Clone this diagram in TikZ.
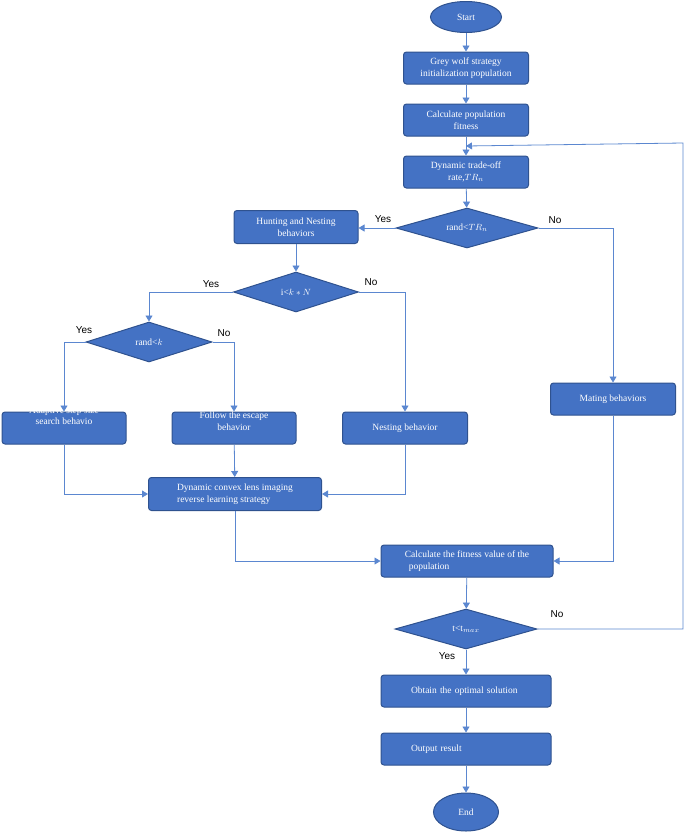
\documentclass[tikz,border=0pt]{standalone}
\usepackage{fontspec}
\setmainfont{Liberation Serif}
\newfontfamily\yesnofont{Liberation Sans}
\usetikzlibrary{calc}
\usetikzlibrary{arrows.meta}
\usetikzlibrary{shapes.geometric}

\definecolor{boxblue}{HTML}{4472C4}
\definecolor{edgeblue}{HTML}{2F528F}
\definecolor{lineblue}{HTML}{5B87D0}

\begin{document}
\begin{tikzpicture}[x=1pt,y=-1pt,
  proc/.style={draw=edgeblue,fill=boxblue,line width=1pt,rounded corners=3pt,
    text=white,font=\fontsize{9.5}{11.5}\selectfont,align=center,inner sep=1pt},
  dec/.style={diamond,aspect=3.5,draw=edgeblue,fill=boxblue,line width=1pt,
    text=white,font=\fontsize{9.5}{11.5}\selectfont,inner sep=0pt,
    minimum width=142pt,minimum height=40pt},
  term/.style={ellipse,draw=edgeblue,fill=boxblue,line width=1pt,
    text=white,font=\fontsize{9.5}{11.5}\selectfont,inner sep=0pt},
  flow/.style={draw=lineblue,line width=0.8pt,-{Triangle[length=6pt,width=7pt]}},
  yesno/.style={font=\yesnofont\fontsize{10}{12}\selectfont}]

\useasboundingbox (0,0) rectangle (685,833);

\node[term,minimum width=71pt,minimum height=31pt] (start) at (466,17) {Start};
\node[proc,minimum width=125pt,minimum height=32pt] (grey) at (466,68) {Grey wolf strategy\\initialization population};
\node[proc,minimum width=125pt,minimum height=32pt] (calc) at (466,120) {Calculate population\\fitness};
\node[proc,minimum width=125pt,minimum height=32pt] (trade) at (466,172) {Dynamic trade-off\\rate,$TR_n$};
\node[dec] (rtr) at (467,228) {rand<$TR_n$};
\node[proc,minimum width=124pt,minimum height=33pt] (hunt) at (296,227) {Hunting and Nesting\\behaviors};
\node[dec,minimum width=125pt] (ikn) at (296,292) {i<$k*N$};
\node[dec,minimum width=126pt] (rk) at (149,342) {rand<$k$};
\node[proc,minimum width=124pt,minimum height=32pt,text height=8pt,text depth=15pt] (adapt) at (64,428) {Adaptive step size\\search behavio};
\node[proc,minimum width=124pt,minimum height=32pt,text height=10pt,text depth=6pt] (follow) at (234,428) {Follow the escape\\behavior};
\node[proc,minimum width=125pt,minimum height=32pt] (nest) at (405,428) {Nesting behavior};
\node[proc,minimum width=125pt,minimum height=32pt] (mate) at (613,399) {Mating behaviors};
\node[proc,minimum width=173pt,minimum height=33pt,align=left] (lens) at (235,494) {Dynamic convex lens imaging\\reverse learning strategy};
\node[proc,minimum width=172pt,minimum height=32pt,align=left] (fit) at (467,561) {Calculate the fitness value of the\\\ \,population};
\node[dec] (tmax) at (466,629) {t<t$_{max}$};
\node[proc,minimum width=170pt,minimum height=32pt,text width=110pt,align=left] (opt) at (466,691) {Obtain the optimal solution};
\node[proc,minimum width=170pt,minimum height=32pt,text width=110pt,align=left] (out) at (466,749) {Output result};
\node[term,minimum width=65pt,minimum height=38pt] (end) at (466,812) {End};

\coordinate (back) at ($(calc.south)!0.5!(trade.north)$);
\coordinate (rim) at (683,143);

\draw[flow] (start) -- (grey);
\draw[flow] (grey) -- (calc);
\draw[flow] (calc) -- (trade);
\draw[flow] (trade) -- (rtr);
\draw[flow] (rtr.west) -- (rtr.west -| hunt.east);
\draw[flow] (rtr.east) -| (mate.north);
\draw[flow] (hunt) -- (ikn);
\draw[flow] (ikn.west) -| (rk.north);
\draw[flow] (ikn.east) -| (nest.north);
\draw[flow] (rk.west) -| (adapt.north);
\draw[flow] (rk.east) -| (follow.north);
\draw[flow] (adapt.south) |- (lens.west);
\draw[flow] (follow) -- (lens);
\draw[flow] (nest.south) |- (lens.east);
\draw[flow] (lens.south) |- (fit.west);
\draw[flow] (mate.south) |- (fit.east);
\draw[flow] (fit) -- (tmax);
\draw[flow] (tmax.east) -| (rim) -- (back);
\draw[flow] (tmax) -- (opt);
\draw[flow] (opt) -- (out);
\draw[flow] (out) -- (end);

\node[yesno] (rtryes) at (383,219) {Yes};
\node[yesno] (rtrno) at (555,220) {No};
\node[yesno] (iknyes) at (211,284) {Yes};
\node[yesno] (iknno) at (371,282) {No};
\node[yesno] (rkyes) at (84,330) {Yes};
\node[yesno] (rkno) at (224,333) {No};
\node[yesno] (tmaxno) at (557,614) {No};
\node[yesno] (tmaxyes) at (447,656) {Yes};

\end{tikzpicture}
\end{document}
